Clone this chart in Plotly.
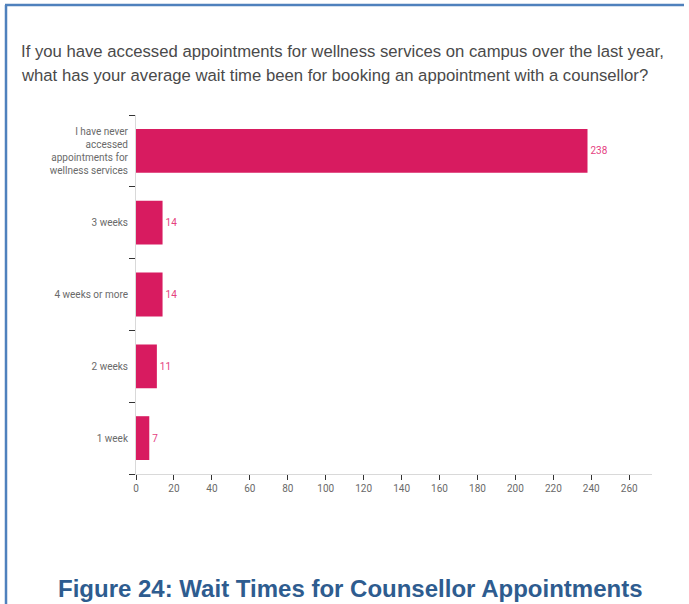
import plotly.graph_objects as go

categories = [
    "I have never<br>accessed<br>appointments for<br>wellness services",
    "3 weeks",
    "4 weeks or more",
    "2 weeks",
    "1 week",
]
counts = [238, 14, 14, 11, 7]
x_ticks = list(range(0, 261, 20))

question_lines = [
    "If you have accessed appointments for wellness services on campus over the last year,",
    "what has your average wait time been for booking an appointment with a counsellor?",
]
caption = "Figure 24: Wait Times for Counsellor Appointments"

W, H = 689, 604
BAR = "#D81B60"
LABEL = "#E5417F"
GREY = "#6a6a6a"
BLUE = "#4F81BD"


def px_x(v):
    return v / W


def px_y(v):
    return 1 - v / H


fig = go.Figure(
    go.Bar(
        x=counts,
        y=categories,
        orientation="h",
        marker=dict(color=BAR, line=dict(width=0)),
        text=[str(c) for c in counts],
        textposition="outside",
        textfont=dict(color=LABEL, size=10, family="Roboto, sans-serif"),
        cliponaxis=False,
    )
)

fig.update_layout(
    width=W,
    height=H,
    margin=dict(l=0, r=0, t=0, b=0),
    paper_bgcolor="white",
    plot_bgcolor="white",
    showlegend=False,
    bargap=0.39,
    font=dict(family="Roboto, sans-serif", color=GREY, size=10),
    xaxis=dict(
        domain=[px_x(136), px_x(652)],
        range=[0, 272],
        tickvals=x_ticks,
        ticks="outside",
        ticklen=5,
        tickcolor="#333333",
        showgrid=False,
        zeroline=False,
        showline=True,
        linecolor="#d9d9d9",
        linewidth=1,
        tickfont=dict(size=10, color=GREY),
        automargin=False,
    ),
    yaxis=dict(
        domain=[px_y(474), px_y(115)],
        categoryorder="array",
        categoryarray=categories[::-1],
        autorange=False,
        range=[-0.5, 4.5],
        ticks="outside",
        tickson="boundaries",
        ticklen=6,
        tickcolor="#333333",
        showgrid=False,
        zeroline=False,
        showline=True,
        linecolor="#d9d9d9",
        linewidth=1,
        ticklabelstandoff=5,
        tickfont=dict(size=10, color=GREY),
        automargin=False,
    ),
)

# Question text above the chart
for i, line in enumerate(question_lines):
    fig.add_annotation(
        x=px_x(19), y=px_y(51 + 24 * i), xref="paper", yref="paper",
        xanchor="left", yanchor="middle", showarrow=False,
        text=line, font=dict(size=16.7, color="#4a4a4a", family="Liberation Sans, Roboto, sans-serif"),
    )

# Figure caption
fig.add_annotation(
    x=px_x(350), y=px_y(588), xref="paper", yref="paper",
    xanchor="center", yanchor="middle", showarrow=False,
    text="<b>" + caption + "</b>",
    font=dict(size=24, color="#2E5C8F", family="Liberation Sans, Arial, sans-serif"),
)

# Blue frame: top and left edges
fig.add_shape(type="line", xref="paper", yref="paper",
              x0=px_x(5), x1=px_x(684), y0=px_y(5), y1=px_y(5),
              line=dict(color=BLUE, width=2.5))
fig.add_shape(type="line", xref="paper", yref="paper",
              x0=px_x(6), x1=px_x(6), y0=px_y(5), y1=0,
              line=dict(color=BLUE, width=2.5))

fig.write_html("out.html")
